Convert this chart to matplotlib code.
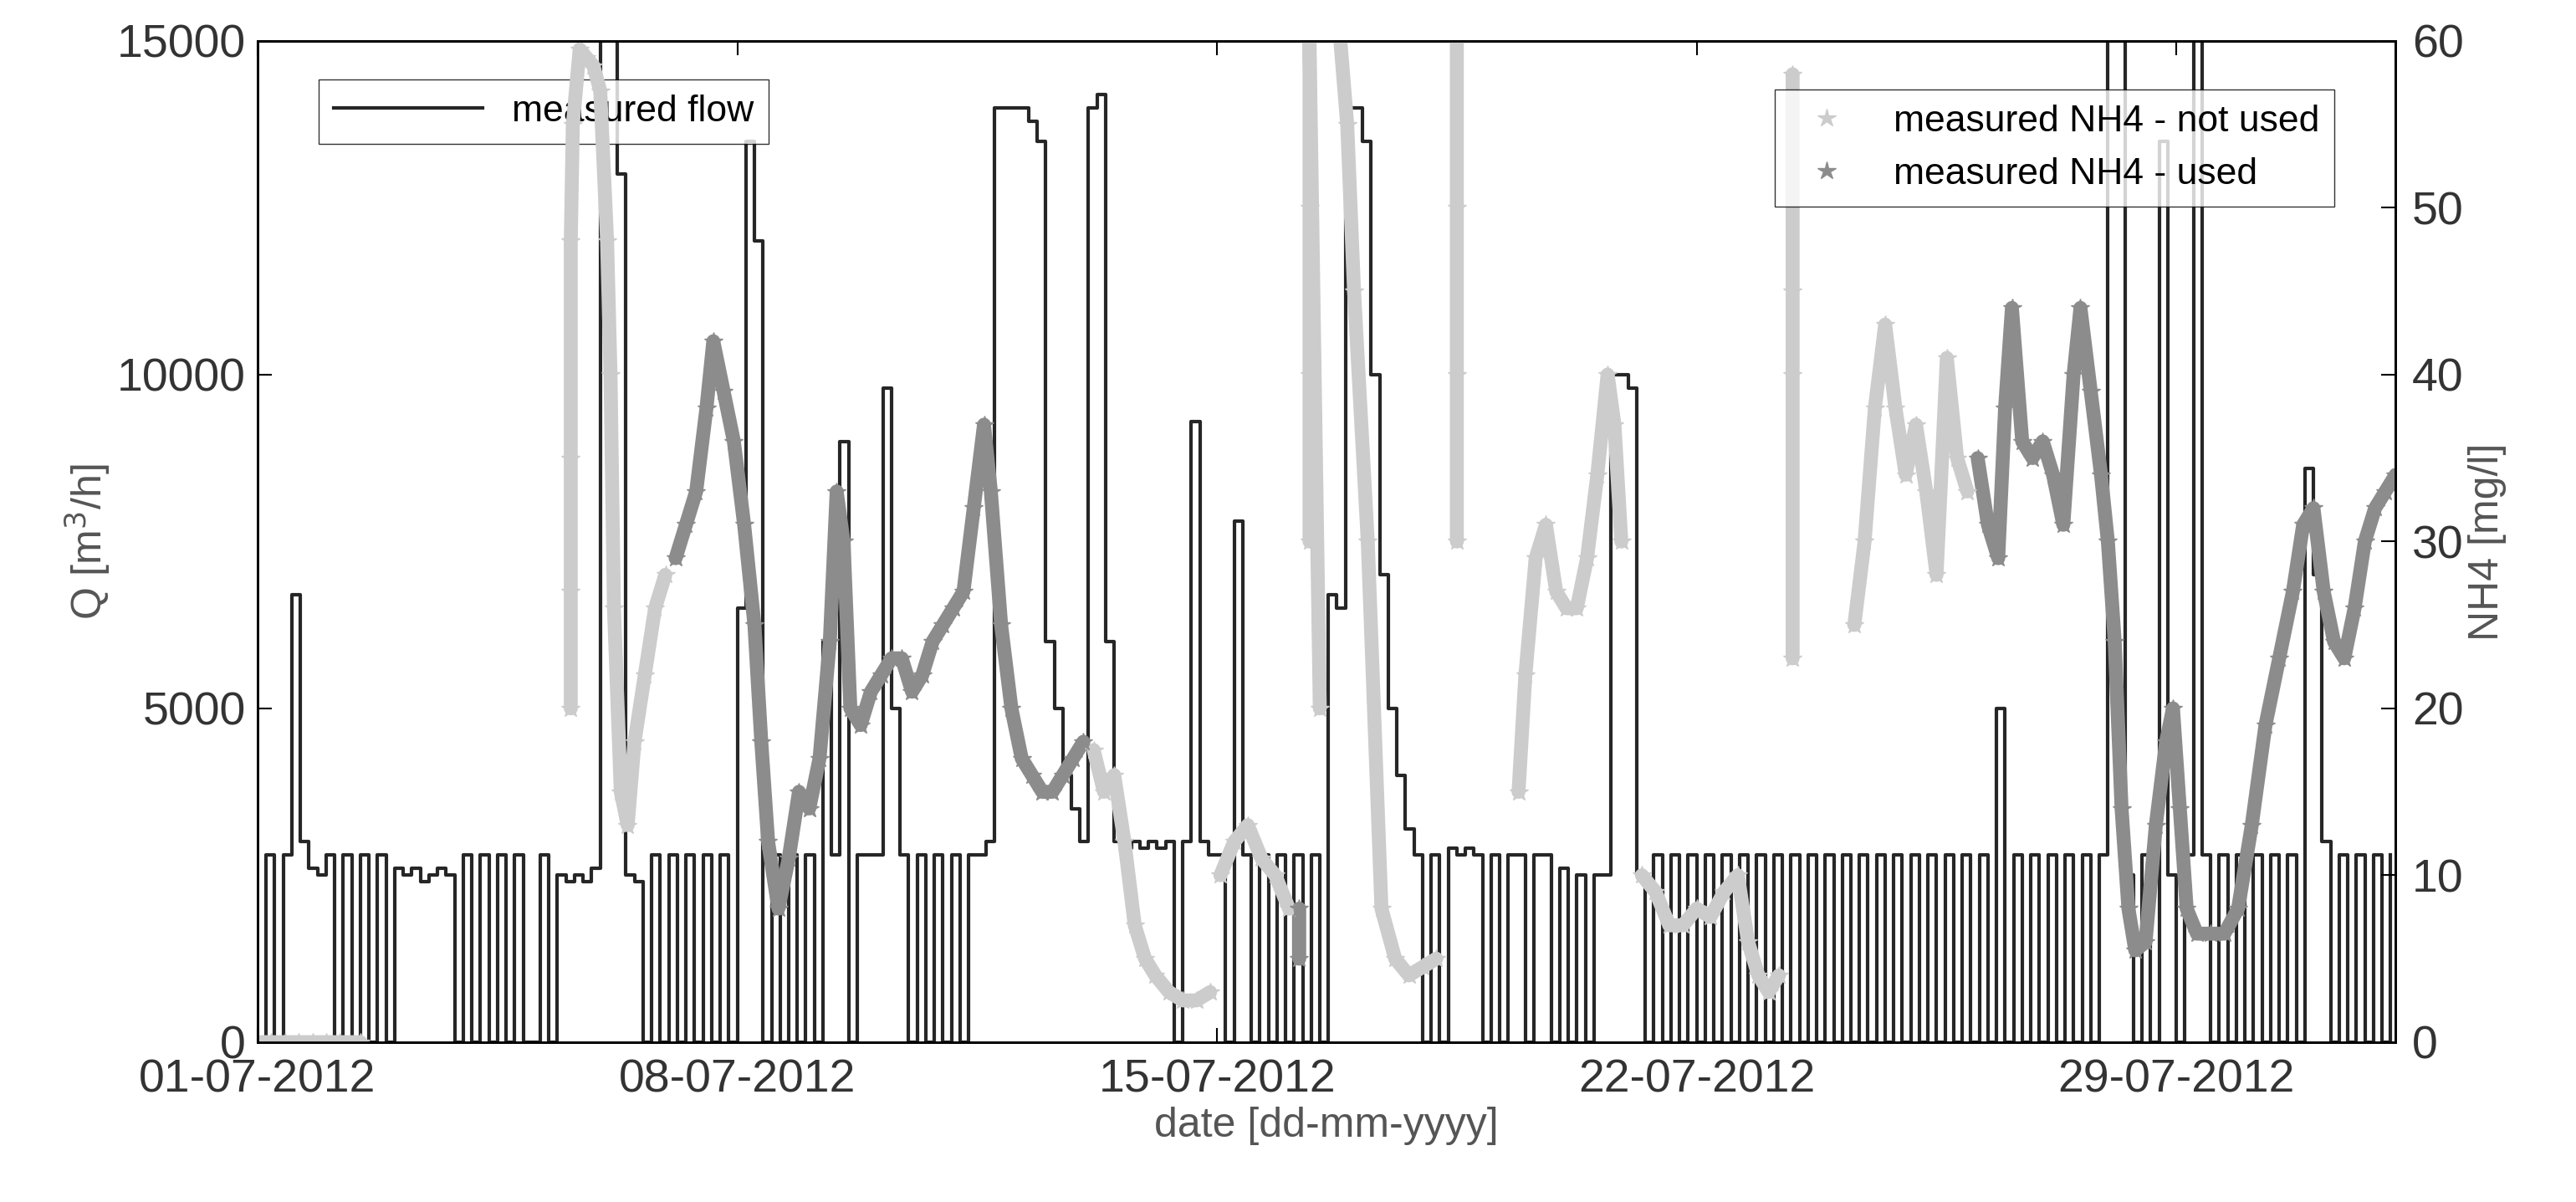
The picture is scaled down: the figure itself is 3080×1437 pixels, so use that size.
import numpy as np
import matplotlib.pyplot as plt

plt.rcParams['font.family'] = ['Liberation Sans', 'DejaVu Sans']

# flow Q [m3/h], 3-hourly values (8 per day) starting 01-07-2012 00:00
flow_per_day = [
    [0, 2800, 0, 2800, 6700, 3000, 2600, 2500],
    [2800, 0, 2800, 0, 2800, 0, 2800, 0],
    [2600, 2500, 2600, 2400, 2500, 2600, 2500, 0],
    [2800, 0, 2800, 0, 2800, 0, 2800, 0],
    [0, 2800, 0, 2500, 2400, 2500, 2400, 2600],
    [15000, 15000, 13000, 2500, 2400, 0, 2800, 0],
    [2800, 0, 2800, 0, 2800, 0, 2800, 0],
    [6500, 13500, 12000, 0, 2800, 0, 2800, 0],
    [2800, 0, 6000, 2800, 9000, 0, 2800, 2800],
    [2800, 9800, 5000, 2800, 0, 2800, 0, 2800],
    [0, 2800, 0, 2800, 2800, 3000, 14000, 14000],
    [14000, 14000, 13800, 13500, 6000, 5000, 4000, 3500],
    [3000, 14000, 14200, 6000, 3000, 2900, 3000, 2900],
    [3000, 2900, 3000, 0, 3000, 9300, 3000, 2800],
    [2800, 0, 7800, 2800, 0, 2800, 0, 2800],
    [0, 2800, 0, 2800, 0, 6700, 6500, 14000],
    [14000, 13500, 10000, 7000, 5000, 4000, 3200, 2800],
    [0, 2800, 0, 2900, 2800, 2900, 2800, 0],
    [2800, 0, 2800, 2800, 0, 2800, 2800, 0],
    [2600, 0, 2500, 0, 2500, 2500, 10000, 10000],
    [9800, 2500, 0, 2800, 0, 2800, 0, 2800],
    [0, 2800, 0, 2800, 0, 2800, 0, 2800],
    [0, 2800, 0, 2800, 0, 2800, 0, 2800],
    [0, 2800, 0, 2800, 0, 2800, 0, 2800],
    [0, 2800, 0, 2800, 0, 2800, 0, 2800],
    [0, 2800, 0, 5000, 0, 2800, 0, 2800],
    [0, 2800, 0, 2800, 0, 2800, 0, 2800],
    [15000, 15000, 2500, 0, 2800, 0, 13500, 2500],
    [0, 2800, 15000, 2800, 0, 2800, 0, 2800],
    [0, 2800, 0, 2800, 0, 2800, 0, 8600],
    [7000, 3000, 0, 2800, 0, 2800, 0, 2800],
    [0, 2800],
]

# NH4 not used (light) : (day, mg/l); None breaks the series
nh4_notused = [
    (0.0, 0), (0.2, 0), (0.4, 0), (0.6, 0), (0.8, 0), (1.0, 0), (1.2, 0), (1.5, 0),
    None,
    (4.57, 20), (4.57, 27), (4.57, 35), (4.57, 48), (4.6, 55),
    (4.7, 59.5), (4.8, 59), (4.9, 58.5), (5.0, 57), (5.1, 48), (5.15, 40), (5.2, 26),
    (5.3, 15), (5.4, 13), (5.5, 18), (5.65, 22), (5.8, 26), (5.95, 28),
    None,
    (12.2, 17.5), (12.35, 15), (12.5, 16), (12.65, 12), (12.8, 7), (12.95, 5), (13.1, 4),
    (13.3, 3), (13.5, 2.5), (13.7, 2.5), (13.9, 3),
    None,
    (14.05, 10), (14.25, 12), (14.45, 13), (14.65, 11), (14.85, 10), (15.05, 8),
    None,
    (15.35, 30), (15.35, 40), (15.35, 50), (15.35, 60), (15.5, 20),
    None,
    (15.8, 60), (15.9, 55), (16.0, 45), (16.2, 30), (16.4, 8), (16.6, 5), (16.8, 4),
    (17.0, 4.5), (17.2, 5),
    None,
    (17.5, 30), (17.5, 40), (17.5, 50), (17.5, 60),
    None,
    (18.4, 15), (18.5, 22), (18.65, 29), (18.8, 31), (18.95, 27), (19.1, 26), (19.25, 26),
    (19.4, 29), (19.55, 34), (19.7, 40), (19.8, 37), (19.9, 30),
    None,
    (20.2, 10), (20.4, 9), (20.6, 7), (20.8, 7), (21.0, 8), (21.2, 7.5), (21.4, 9),
    (21.6, 10), (21.75, 6), (21.9, 4), (22.05, 3), (22.2, 4),
    None,
    (22.4, 23), (22.4, 40), (22.4, 45), (22.4, 58),
    None,
    (23.3, 25), (23.45, 30), (23.6, 38), (23.75, 43), (23.9, 38), (24.05, 34), (24.2, 37),
    (24.35, 33), (24.5, 28), (24.65, 41), (24.8, 35), (24.95, 33),
]

# NH4 used (dark) : (day, mg/l)
nh4_used = [
    (6.1, 29), (6.25, 31), (6.4, 33), (6.55, 38), (6.65, 42), (6.8, 39), (6.95, 36),
    (7.1, 31), (7.25, 25), (7.35, 18), (7.45, 12), (7.6, 8), (7.75, 11), (7.9, 15),
    (8.05, 14), (8.2, 17), (8.35, 24), (8.45, 33), (8.55, 30), (8.65, 20), (8.8, 19),
    (8.95, 21), (9.1, 22), (9.25, 23), (9.4, 23), (9.55, 21), (9.7, 22), (9.85, 24),
    (10.0, 25), (10.15, 26), (10.3, 27), (10.45, 32), (10.6, 37), (10.7, 33), (10.85, 25),
    (11.0, 20), (11.15, 17), (11.3, 16), (11.45, 15), (11.6, 15), (11.75, 16), (11.9, 17),
    (12.05, 18),
    None,
    (15.2, 5), (15.2, 8),
    None,
    (25.1, 35), (25.25, 31), (25.4, 29), (25.5, 38), (25.6, 44), (25.75, 36), (25.9, 35),
    (26.05, 36), (26.2, 34), (26.35, 31), (26.5, 40), (26.6, 44), (26.75, 39), (26.9, 34),
    (27.0, 30), (27.1, 24), (27.2, 14), (27.3, 8), (27.4, 5.5), (27.55, 6), (27.7, 13),
    (27.85, 18), (27.95, 20), (28.05, 14), (28.15, 8), (28.3, 6.5), (28.5, 6.5),
    (28.7, 6.5), (28.9, 8), (29.1, 13), (29.3, 19), (29.5, 23), (29.7, 27), (29.85, 31),
    (30.0, 32), (30.15, 27), (30.3, 24), (30.45, 23), (30.6, 26), (30.75, 30), (30.9, 32),
    (31.05, 33), (31.2, 34),
]

tick_days = [0, 7, 14, 21, 28]
tick_labels = ['01-07-2012', '08-07-2012', '15-07-2012', '22-07-2012', '29-07-2012']


def to_xy(points):
    x = [np.nan if p is None else p[0] for p in points]
    y = [np.nan if p is None else p[1] for p in points]
    return np.array(x), np.array(y)


flow = np.concatenate([np.array(d, dtype=float) for d in flow_per_day])
t_flow = np.arange(len(flow)) / 8.0

grey = '#555555'
fig = plt.figure(figsize=(30.8, 14.37), dpi=100)
ax = fig.add_axes([0.100, 0.133, 0.830, 0.833])
ax.plot(t_flow, flow, color='#262626', lw=3, drawstyle='steps-post', label='measured flow')
ax.set_xlim(0, 31.2)
ax.set_ylim(0, 15000)
ax.set_yticks([0, 5000, 10000, 15000])
ax.set_xticks(tick_days)
ax.set_xticklabels(tick_labels)
ax.set_ylabel('Q [m$^3$/h]', fontsize=36, color=grey)
ax.set_xlabel('date [dd-mm-yyyy]', fontsize=36, color=grey, labelpad=4)

ax2 = ax.twinx()
xn, yn = to_xy(nh4_notused)
xu, yu = to_xy(nh4_used)
ax2.plot(xn, yn, color='#cccccc', lw=12, solid_capstyle='round', zorder=1)
ax2.plot(xn, yn, ls='none', marker='*', ms=16, color='#cccccc', label='measured NH4 - not used')
ax2.plot(xu, yu, color='#8c8c8c', lw=12, solid_capstyle='round', zorder=1)
ax2.plot(xu, yu, ls='none', marker='*', ms=16, color='#8c8c8c', label='measured NH4 - used')
ax2.set_ylim(0, 60)
ax2.set_yticks(range(0, 61, 10))
ax2.set_ylabel('NH4 [mg/l]', fontsize=36, color=grey)

for a in (ax, ax2):
    a.tick_params(direction='in', length=12, width=1.5, labelsize=40, labelcolor='#333333')
    for s in a.spines.values():
        s.set_linewidth(2)
ax.tick_params(axis='x', top=True, pad=14)
ax.tick_params(axis='y', pad=10)
ax2.tick_params(axis='y', pad=14)

ax.legend(loc='upper left', bbox_to_anchor=(0.02, 0.98), fontsize=32, frameon=True,
          fancybox=False, edgecolor='black', handlelength=4, borderpad=0.4)
ax2.legend(loc='upper right', bbox_to_anchor=(0.98, 0.97), fontsize=32, frameon=True,
           fancybox=False, edgecolor='black', handlelength=2, borderpad=0.4)

fig.savefig('out.png', dpi=100)
